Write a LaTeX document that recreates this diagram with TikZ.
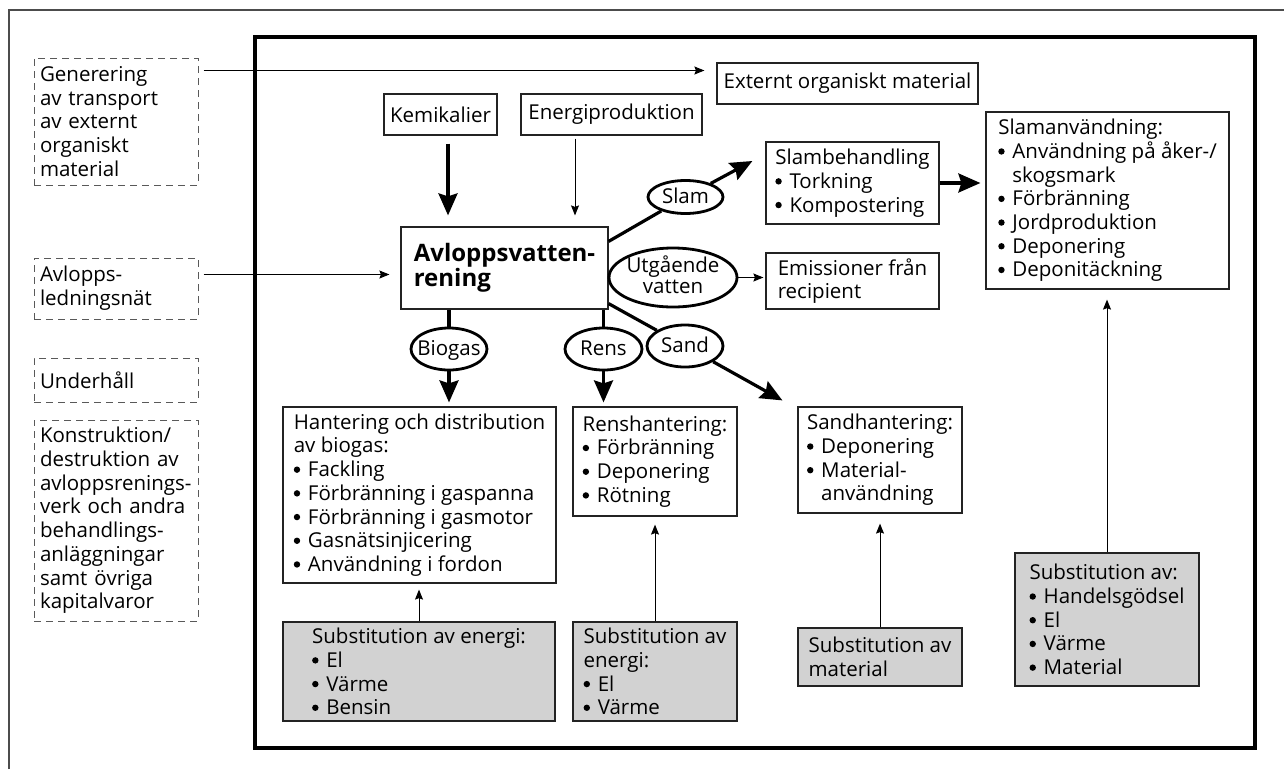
\documentclass[tikz,border=0pt]{standalone}
\usepackage{fontspec}
\setmainfont{Open Sans}
\usetikzlibrary{arrows.meta,calc,shapes.geometric}
\definecolor{subgray}{RGB}{210,210,210}
\definecolor{boxline}{RGB}{35,35,35}
\newcommand{\elltext}[2][-0.33em]{\makebox[0pt]{\raisebox{#1}[0pt][0pt]{#2}}}
\newcommand{\bul}{\tikz[baseline=-0.34em]\fill (0pt,0pt) circle[radius=3.2pt];\hspace{0.38em}}
\begin{document}
\begin{tikzpicture}[x=1pt,y=-1pt,
  font=\fontsize{20.5}{23.7}\selectfont,
  sz/.style 2 args={minimum width=#1pt,minimum height=#2pt},
  box/.style={draw=boxline,line width=1.2pt,align=left,inner sep=0pt},
  sbox/.style={box,fill=subgray},
  dbox/.style={draw=black!65,dash pattern=on 7pt off 5pt,line width=1pt,
    text width=152pt,inner xsep=6pt,inner ysep=0pt,align=left,
    execute at begin node={\hyphenpenalty=10000\exhyphenpenalty=10000}},
  ell/.style={ellipse,draw=black,line width=2.8pt,inner sep=0pt},
  thk/.style={line width=3.2pt,-{Stealth[length=22pt,width=19pt,inset=3pt]}},
  thkl/.style={line width=3.2pt},
  thn/.style={line width=1pt,-{Stealth[length=10pt,width=8pt,inset=1.5pt]}}
]
\useasboundingbox (0,0) rectangle (1284,769);
% frames
\draw[black!70,line width=1.3pt] (9,769) -- (9,10) -- (1284,10);
\draw[line width=4.5pt] (255,37) rectangle (1255,748);

% left dashed boxes
\node[dbox,minimum height=127pt] (gen) at (116,121.5) {Generering\\av transport\\av externt\\organiskt\\material};
\node[dbox,minimum height=61pt] (avl) at (116,288.5) {Avlopps-\\ledningsnät};
\node[dbox,minimum height=44pt] (und) at (116,380) {Underhåll};
\node[dbox,minimum height=201pt] (kon) at (116,520.5) {Konstruktion/\\destruktion av\\avloppsrenings-\\verk och andra\\behandlings-\\anläggningar\\samt övriga\\kapitalvaror};

% boxes
\node[box,sz={261}{41}] (ext) at (847.5,83.5) {Externt organiskt material};
\node[box,sz={113}{41}] (kem) at (440.5,114.5) {Kemikalier};
\node[box,sz={181}{41}] (ene) at (611.5,114.5) {Energiproduktion};
\node[box,sz={207}{82},font=\bfseries\fontsize{24}{25}\selectfont] (avr) at (504.5,268) {Avloppsvatten-\\rening};
\node[box,sz={173}{82}] (slb) at (852.5,183) {Slambehandling\\\bul Torkning\\\bul Kompostering};
\node[box,sz={173}{56}] (emi) at (852.5,281) {Emissioner från\\recipient};
\node[box,sz={243}{177}] (sla) at (1107.5,200.5) {Slamanvändning:\\\bul Användning på åker-/\\\phantom{\bul}skogsmark\\\bul Förbränning\\\bul Jordproduktion\\\bul Deponering\\\bul Deponitäckning};
\node[box,sz={273}{176}] (han) at (419.5,495) {Hantering och distribution\\av biogas:\\\bul Fackling\\\bul Förbränning i gaspanna\\\bul Förbränning i gasmotor\\\bul Gasnätsinjicering\\\bul Användning i fordon};
\node[box,sz={164}{109}] (ren) at (655,461.5) {Renshantering:\\\bul Förbränning\\\bul Deponering\\\bul Rötning};
\node[box,sz={164}{106}] (san) at (880,460) {Sandhantering:\\\bul Deponering\\\bul Material-\\\phantom{\bul}användning};
\node[sbox,sz={272}{99}] (s1) at (419,671.5) {Substitution av energi:\\\bul El\\\bul Värme\\\bul Bensin};
\node[sbox,sz={164}{99}] (s2) at (655,671.5) {Substitution av\\energi:\\\bul El\\\bul Värme};
\node[sbox,sz={164}{58}] (s3) at (880,657) {Substitution av\\material};
\node[sbox,sz={184}{133}] (s4) at (1107,619.5) {Substitution av:\\\bul Handelsgödsel\\\bul El\\\bul Värme\\\bul Material};

% ellipses
\node[ell,sz={75}{33}] (eslam) at (685.5,197) {\elltext{Slam}};
\node[ell,sz={128}{59}] (eutg) at (673,277.5) {\elltext[-0.28em]{\fontsize{20.5}{21}\selectfont\begin{tabular}{@{}c@{}}Utgående\\vatten\end{tabular}}};
\node[ell,sz={76}{42}] (ebio) at (449,349) {\elltext{Biogas}};
\node[ell,sz={77}{42}] (eren) at (603.5,349) {\elltext{Rens}};
\node[ell,sz={76}{42}] (esan) at (685,346) {\elltext{Sand}};

% helper coordinates
\coordinate (g1) at ([yshift=-13pt]gen.north east);
\coordinate (a1) at ([yshift=-17pt]avl.north east);
\coordinate (k1) at ([xshift=7.5pt]kem.south);
\coordinate (e1) at ([xshift=-36.5pt]ene.south);
\coordinate (slbin) at ([xshift=-13pt,yshift=22pt]slb.west);
\coordinate (sanin) at ([xshift=-15pt,yshift=6pt]san.north west);

% connectors
\draw[thn,shorten <=5pt,shorten >=12pt] (g1) -- (g1 -| ext.west);
\draw[thn,shorten <=5pt,shorten >=11pt] (a1) -- (a1 -| avr.west);
\draw[thk,shorten <=8pt,shorten >=11pt] (k1) -- (k1 |- avr.north);
\draw[thn,shorten <=3pt,shorten >=11pt] (e1) -- (e1 |- avr.north);
\draw[thkl] ([yshift=-15pt]avr.north east) -- (eslam);
\draw[thk] (eslam) -- (slbin);
\draw[thk,shorten >=5pt] (slb.east) -- (slb.east -| sla.west);
\draw[thn,shorten >=2pt] (eutg.east) -- (eutg.east -| emi.west);
\draw[thkl] (avr.south -| ebio.north) -- (ebio.north);
\draw[thk,shorten >=4pt] (ebio.south) -- (ebio.south |- han.north);
\draw[thkl] (avr.south -| eren.north) -- (eren.north);
\draw[thk,shorten >=4pt] (eren.south) -- (eren.south |- ren.north);
\draw[thkl] ([yshift=6pt]avr.south east) -- (esan);
\draw[thk] (esan) -- (sanin);
\draw[thn,shorten >=6pt] (s1.north) -- (s1.north |- han.south);
\draw[thn,shorten >=8pt] (s2.north) -- (s2.north |- ren.south);
\draw[thn,shorten >=10pt] (s3.north) -- (s3.north |- san.south);
\draw[thn,shorten >=10pt] (s4.north) -- (s4.north |- sla.south);
\end{tikzpicture}
\end{document}
